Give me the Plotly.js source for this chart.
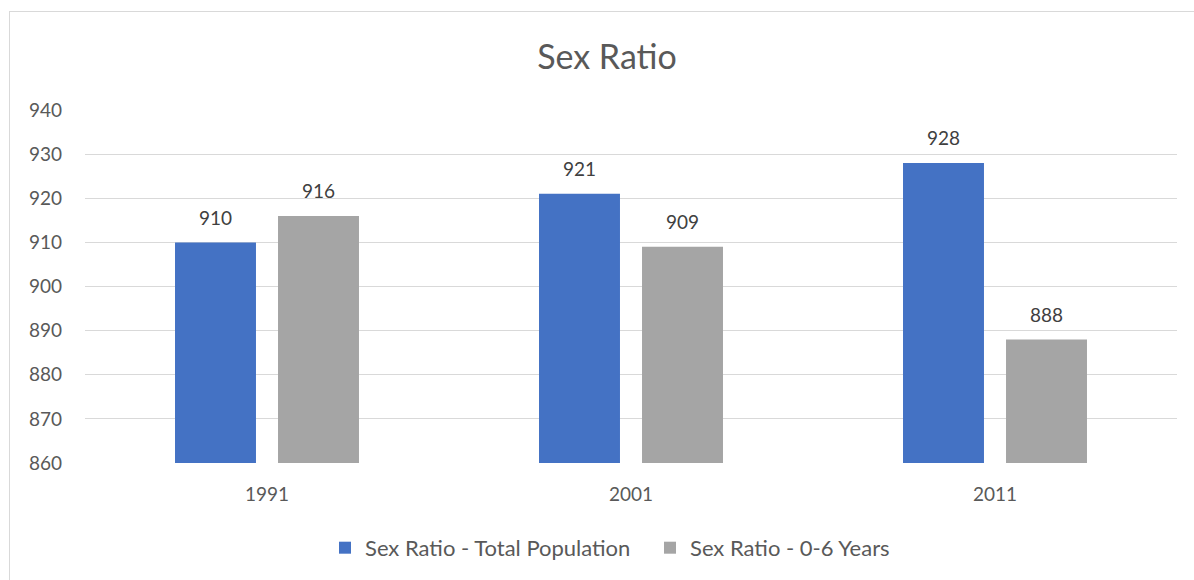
<!DOCTYPE html>
<html>
<head>
<meta charset="utf-8">
<script src="https://cdn.plot.ly/plotly-3.0.1.min.js"></script>
<style>
  html, body { margin: 0; padding: 0; background: #ffffff; }
  #wrap { position: relative; width: 1194px; height: 580px; overflow: hidden; }
  #chart { position: absolute; left: 0; top: 0; width: 1194px; height: 580px; }
  #frame { position: absolute; left: 9px; top: 11px; width: 1300px; height: 700px;
           border-left: 1px solid #d9d9d9; border-top: 1px solid #d9d9d9; pointer-events: none; }
</style>
</head>
<body>
<div id="wrap">
  <div id="chart"></div>
  <div id="frame"></div>
</div>
<script>
const years = ['1991', '2001', '2011'];
const totalPopulation = [910, 921, 928];
const age0to6 = [916, 909, 888];
const seriesNames = ['Sex Ratio - Total Population', 'Sex Ratio - 0-6 Years'];
const yTicks = [860, 870, 880, 890, 900, 910, 920, 930, 940];

const font = 'Lato, "Open Sans", "Noto Sans", sans-serif';
const bargap = 0.434;
const bargroupgap = 0.214;

const traces = [
  {
    type: 'bar', name: seriesNames[0], x: years, y: totalPopulation,
    marker: { color: '#4472c4' }, hoverinfo: 'x+y'
  },
  {
    type: 'bar', name: seriesNames[1], x: years, y: age0to6,
    marker: { color: '#a5a5a5' }, hoverinfo: 'x+y'
  }
];

// data labels placed over each bar (offset = half of one group slot, in category units)
const slot = (1 - bargap) / 2;
const annotations = [];
[totalPopulation, age0to6].forEach((vals, si) => {
  vals.forEach((v, i) => {
    annotations.push({
      x: i + (si === 0 ? -slot / 2 : slot / 2), y: v, xref: 'x', yref: 'y',
      text: String(v), showarrow: false, yanchor: 'middle', yshift: 25,
      font: { family: font, size: 19, color: '#404040' }
    });
  });
});

const layout = {
  width: 1194, height: 580,
  margin: { l: 85, r: 17, t: 110, b: 116 },
  paper_bgcolor: '#ffffff', plot_bgcolor: '#ffffff',
  font: { family: font, size: 19, color: '#595959' },
  title: { text: 'Sex Ratio', font: { family: font, size: 34, color: '#595959' },
           x: 0.478, xanchor: 'center', y: 0.902, yanchor: 'middle', xref: 'paper', yref: 'container' },
  barmode: 'group', bargap: bargap, bargroupgap: bargroupgap,
  xaxis: {
    type: 'category', showgrid: false, zeroline: false, showline: false,
    ticks: '', tickfont: { family: font, size: 19, color: '#595959' }, ticklabelstandoff: 18
  },
  yaxis: {
    range: [860, 940], tickvals: yTicks, ticktext: yTicks.map(String),
    showgrid: true, gridcolor: '#d9d9d9', gridwidth: 1, zeroline: false, showline: false,
    ticks: '', tickfont: { family: font, size: 19, color: '#595959' }, ticklabelstandoff: 22
  },
  annotations: annotations,
  showlegend: true,
  legend: {
    orientation: 'h', x: 0.2198, xanchor: 'left', y: -0.237, yanchor: 'middle',
    font: { family: font, size: 22, color: '#595959' },
    itemwidth: 30, traceorder: 'normal', entrywidth: 280, entrywidthmode: 'pixels'
  }
};

Plotly.newPlot('chart', traces, layout, { displayModeBar: false, staticPlot: true });
</script>
</body>
</html>
